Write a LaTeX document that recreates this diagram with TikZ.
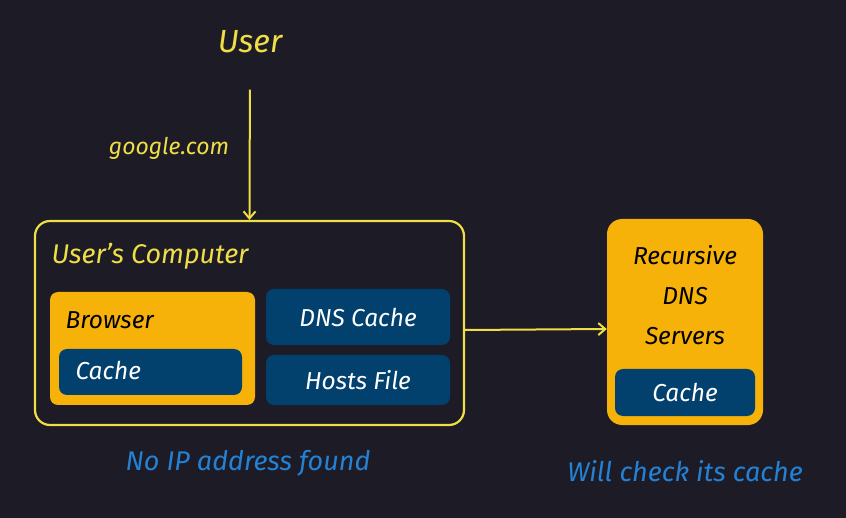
\documentclass[tikz,border=0pt]{standalone}
\usepackage{fontspec}
\setmainfont{Fira Sans}
\usetikzlibrary{arrows.meta}
\definecolor{bgdark}{RGB}{28,27,38}
\definecolor{penyellow}{RGB}{240,222,70}
\definecolor{boxorange}{RGB}{246,178,8}
\definecolor{boxblue}{RGB}{2,64,110}
\definecolor{noteblue}{RGB}{36,130,214}
\tikzset{
    % Open chevron heads, as drawn by hand
    >={Straight Barb[length=7pt,width=12pt]},
%
    % Outline of a machine
    machine/.style={draw=penyellow, line width=2.2pt, rounded corners=15pt},
    % Orange component fill
    orange box/.style={fill=boxorange, rounded corners=8pt},
    % Dark blue store fill
    blue box/.style={fill=boxblue, rounded corners=8pt, text=white},
    % Handwritten looking text
    hand/.style={font=\fontsize{24.5}{28}\selectfont\itshape}}

\begin{document}
\begin{tikzpicture}[x=1pt, y=-1pt,
    link/.style={draw=penyellow, line width=2pt, ->},
    note/.style={hand, text=noteblue, font=\fontsize{27}{31}\selectfont\itshape}]
\useasboundingbox[fill=bgdark] (0,0) rectangle (846,518);

% The user and the typed name
\node[hand, text=penyellow, font=\fontsize{32}{36}\selectfont\itshape]
    at (250,42) (user) {User};

% User's computer and what it holds
\node[machine, minimum width=429pt, minimum height=204pt]
    at (249.5,323) (computer) {};
\node[hand, text=penyellow, anchor=west, font=\fontsize{27}{31}\selectfont\itshape]
    at (48,256) (computer label) {User's Computer};
\node[orange box, minimum width=205pt, minimum height=113pt]
    at (152.5,348.5) (browser) {};
\node[hand, anchor=west] at (62,320) (browser label) {Browser};
\node[blue box, minimum width=183pt, minimum height=46pt]
    at (150.5,372) (browser cache) {};
\node[hand, text=white, anchor=west] at (72,370) (browser cache label) {Cache};
\node[blue box, hand, minimum width=184pt, minimum height=56pt]
    at (358,317) (dns cache) {DNS Cache};
\node[blue box, hand, minimum width=184pt, minimum height=50pt]
    at (358,380) (hosts) {Hosts File};

% Recursive resolver
\node[orange box, rounded corners=15pt, minimum width=156pt, minimum height=206pt]
    at (685,322) (recursive) {};
\node[hand, align=center, font=\fontsize{24.5}{40}\selectfont\itshape]
    at (685,295) (recursive label) {Recursive\\DNS\\Servers};
\node[blue box, hand, minimum width=140pt, minimum height=47pt]
    at (685,392.5) (server cache) {Cache};

\draw[link, shorten <=33pt] (user.south) -- (computer.north);
\node[hand, text=penyellow, font=\fontsize{23}{27}\selectfont\itshape]
    at (169,148) (query) {google.com};
\draw[link] ([yshift=-7pt]computer.east) -- ([yshift=-7pt]recursive.west);

% What happens at each end
\node[note] at (248,463) (no ip) {No IP address found};
\node[note] at (685,471) (check) {Will check its cache};
\end{tikzpicture}
\end{document}
